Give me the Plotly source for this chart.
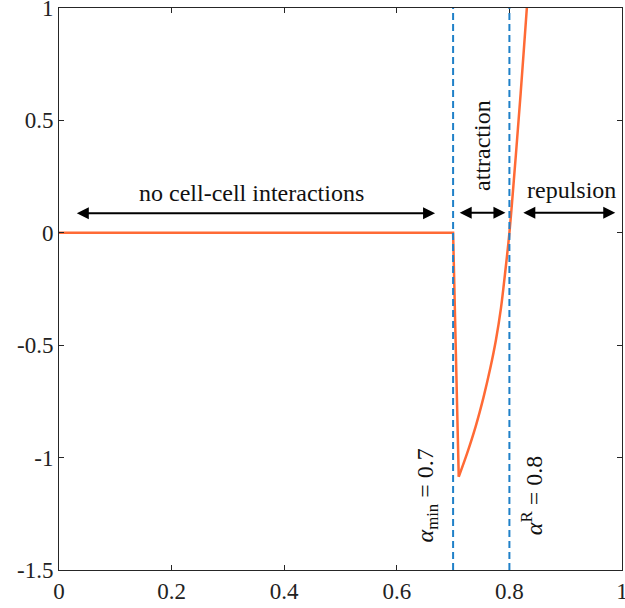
import plotly.graph_objects as go

# Interaction force profile
alpha_min = 0.7
alpha_R = 0.8

x_flat = [0.0, 0.70, 0.710]
y_flat = [0.0, 0.0, -1.085]

x_rise = [0.710, 0.725, 0.740, 0.754, 0.766, 0.776, 0.785, 0.792, 0.800, 0.810, 0.820, 0.831, 0.840]
y_rise = [-1.085, -0.980, -0.862, -0.732, -0.603, -0.478, -0.335, -0.187, 0.0, 0.30, 0.62, 1.0, 1.30]

x_ticks = [0, 0.2, 0.4, 0.6, 0.8, 1]
x_ticktext = ["0", "0.2", "0.4", "0.6", "0.8", "1"]
y_ticks = [-1.5, -1, -0.5, 0, 0.5, 1]
y_ticktext = ["-1.5", "-1", "-0.5", "0", "0.5", "1"]

orange = "#FF6A35"
blue = "#1F80C8"
axis_col = "#262626"
font_fam = "Liberation Serif"

fig = go.Figure()
fig.add_trace(go.Scatter(x=x_flat, y=y_flat, mode="lines",
                         line=dict(color=orange, width=2.5), showlegend=False))
fig.add_trace(go.Scatter(x=x_rise, y=y_rise, mode="lines",
                         line=dict(color=orange, width=2.5, shape="spline", smoothing=1.0),
                         showlegend=False))

for xv in (alpha_min, alpha_R):
    fig.add_shape(type="line", x0=xv, x1=xv, y0=-1.5, y1=1, xref="x", yref="y",
                  line=dict(color=blue, width=2, dash="7px,4px"), layer="above")

# Region arrows (double headed)
arrows = [
    (0.029, 0.668, 0.087),
    (0.709, 0.793, 0.089),
    (0.822, 0.988, 0.089),
]
for x0, x1, yv in arrows:
    fig.add_annotation(x=x1, y=yv, ax=x0, ay=yv, xref="x", yref="y", axref="x", ayref="y",
                       text="", showarrow=True, arrowhead=2, startarrowhead=2,
                       arrowside="end+start", arrowsize=1.2, startarrowsize=1.2,
                       arrowwidth=2, arrowcolor="black")

txt_font = dict(family=font_fam, size=24, color="#111111")
fig.add_annotation(x=0.3415, y=0.176, xref="x", yref="y", text="no cell-cell interactions",
                   showarrow=False, font=txt_font)
fig.add_annotation(x=0.91, y=0.19, xref="x", yref="y", text="repulsion",
                   showarrow=False, font=txt_font)
fig.add_annotation(x=0.751, y=0.39, xref="x", yref="y", text="attraction",
                   showarrow=False, textangle=-90, font=txt_font)
fig.add_annotation(x=0.653, y=-1.17, xref="x", yref="y",
                   text="<i>α</i><sub>min</sub> = 0.7",
                   showarrow=False, textangle=-90, font=txt_font)
fig.add_annotation(x=0.839, y=-1.17, xref="x", yref="y",
                   text="<i>α</i><sup>R</sup> = 0.8",
                   showarrow=False, textangle=-90, font=txt_font)

axis_common = dict(showgrid=False, zeroline=False, showline=True, linecolor=axis_col,
                   linewidth=1, mirror="ticks", ticks="inside", ticklen=5,
                   tickcolor=axis_col, tickwidth=1, ticklabeloverflow="allow",
                   automargin=False,
                   tickfont=dict(family=font_fam, size=23, color="#222222"))

fig.update_xaxes(range=[0, 1], tickvals=x_ticks, ticktext=x_ticktext, **axis_common)
fig.update_yaxes(range=[-1.5, 1], tickvals=y_ticks, ticktext=y_ticktext, **axis_common)

fig.update_layout(width=625, height=608, plot_bgcolor="white", paper_bgcolor="white",
                  margin=dict(l=59, r=3, t=8, b=38, autoexpand=False), showlegend=False)

fig.write_html("out.html")
